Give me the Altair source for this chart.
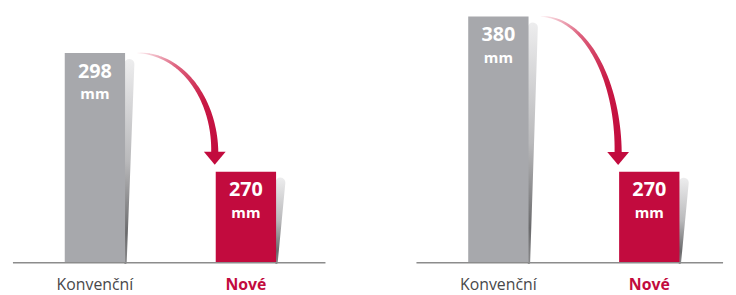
import math
import altair as alt
import pandas as pd

# ---- data ----
categories = ["Konvenční", "Nové"]
left_values = [298, 270]
right_values = [380, 270]
unit = "mm"

GRAY = "#a7a8ac"
RED = "#c20b3e"
LABEL_GRAY = "#48484a"
FONT = "Open Sans"

SLOT = 157.5     # px between the two bar centres
BAR_W = 61       # bar width in px
PLOT_H = 256     # plot height in px
X0 = 85.5        # px from panel left to first bar centre


def panel(values, width, base, top):
    ppu = PLOT_H / (top - base)          # px per data unit (y)
    pos = [0, 1]
    bars = pd.DataFrame({"cat": categories, "pos": pos, "value": values,
                         "label": [str(v) for v in values], "unit": [unit, unit],
                         "color": [GRAY, RED], "tcolor": [LABEL_GRAY, RED]})

    xmin, xmax = -X0 / SLOT, (width - X0) / SLOT
    xscale = alt.Scale(domain=[xmin, xmax], nice=False, zero=False)
    yscale = alt.Scale(domain=[base, top], nice=False, zero=False)

    def X(f):
        return alt.X(f, scale=xscale, axis=None)

    def Y(f):
        return alt.Y(f, scale=yscale, axis=None)

    bar = alt.Chart(bars).mark_bar(width=BAR_W).encode(
        x=X("pos:Q"), y=Y("value:Q"), y2=alt.datum(base),
        color=alt.Color("color:N", scale=None),
    )

    baseline = alt.Chart(pd.DataFrame({"a": [xmin], "b": [xmax], "y": [base]})).mark_rule(
        color="#8c8c8c", strokeWidth=1.5).encode(x=X("a:Q"), x2="b:Q", y=Y("y:Q"))

    cat_labels = []
    for i, weight in enumerate(["normal", "bold"]):
        cat_labels.append(
            alt.Chart(bars).transform_filter(f"datum.pos == {i}").mark_text(
                font=FONT, fontSize=16, fontWeight=weight, baseline="alphabetic", dy=28,
            ).encode(x=X("pos:Q"), y=alt.datum(base), text="cat:N",
                     color=alt.Color("tcolor:N", scale=None))
        )

    # tapered shadow to the right of each bar (trail: wide & light at top, thin & dark at bottom)
    rows = []
    for p, v in zip(pos, values):
        rows.append({"pos": p, "y": v - 11 / ppu, "x": p + 36.0 / SLOT, "w": 10.0, "o": 0})
        rows.append({"pos": p, "y": base, "x": p + 31.8 / SLOT, "w": 2.6, "o": 1})
    shadow = alt.Chart(pd.DataFrame(rows)).mark_trail(
        color=alt.Gradient(gradient="linear", x1=0, y1=0, x2=0, y2=1,
                           stops=[alt.GradientStop(offset=0, color="#ededee"),
                                  alt.GradientStop(offset=0.5, color="#b9b9bb"),
                                  alt.GradientStop(offset=0.85, color="#6a6a6c"),
                                  alt.GradientStop(offset=1, color="#8a8a8c")]),
    ).encode(x=X("x:Q"), y=Y("y:Q"), size=alt.Size("w:Q", scale=None),
             detail="pos:N", order="o:Q")

    num = alt.Chart(bars).mark_text(font=FONT, fontSize=20, fontWeight="bold", color="white",
                                    baseline="alphabetic", dy=25).encode(
        x=X("pos:Q"), y=Y("value:Q"), text="label:N")
    mm = alt.Chart(bars).mark_text(font=FONT, fontSize=15, fontWeight="bold", color="white",
                                   baseline="alphabetic", dy=47).encode(
        x=X("pos:Q"), y=Y("value:Q"), text="unit:N")

    # curved arrow (quarter ellipse) from the top of the first bar to the second one
    sx = (BAR_W / 2 + 14) / SLOT
    sy = values[0]
    ex = 1 - (BAR_W / 2 + 2) / SLOT
    ey = values[1] + 20 / ppu
    arr = []
    n = 40
    for i in range(n + 1):
        t = (math.pi / 2) * i / n
        arr.append({"x": sx + (ex - sx) * math.sin(t), "y": ey + (sy - ey) * math.cos(t),
                    "w": 0.6 + 6.6 * (i / n) ** 0.8, "o": i})
    arrow = alt.Chart(pd.DataFrame(arr)).mark_trail(
        color=alt.Gradient(gradient="linear", x1=0, y1=0, x2=1, y2=1,
                           stops=[alt.GradientStop(offset=0, color="#fdf1f3"),
                                  alt.GradientStop(offset=0.3, color="#de6480"),
                                  alt.GradientStop(offset=0.65, color="#c81944"),
                                  alt.GradientStop(offset=1, color=RED)]),
    ).encode(x=X("x:Q"), y=Y("y:Q"), size=alt.Size("w:Q", scale=None), order="o:Q")

    head = alt.Chart(pd.DataFrame({"x": [ex], "y": [values[1] + 13.5 / ppu]})).mark_point(
        shape="M-1,-0.6L1,-0.6L0,0.6Z", size=484, filled=True, color=RED, opacity=1,
        strokeWidth=0,
    ).encode(x=X("x:Q"), y=Y("y:Q"))

    return alt.layer(shadow, bar, baseline, arrow, head, num, mm, *cat_labels).properties(
        width=width, height=PLOT_H)


left = panel(left_values, 326, 248.5, 248.5 + PLOT_H / (120 / 28))
right = panel(right_values, 320, 205.54, 205.54 + PLOT_H / (157 / 110))

chart = alt.hconcat(left, right, spacing=82).properties(padding=0).configure_view(stroke=None)
chart.save("out.html", embed_options={"renderer": "svg", "actions": False})
